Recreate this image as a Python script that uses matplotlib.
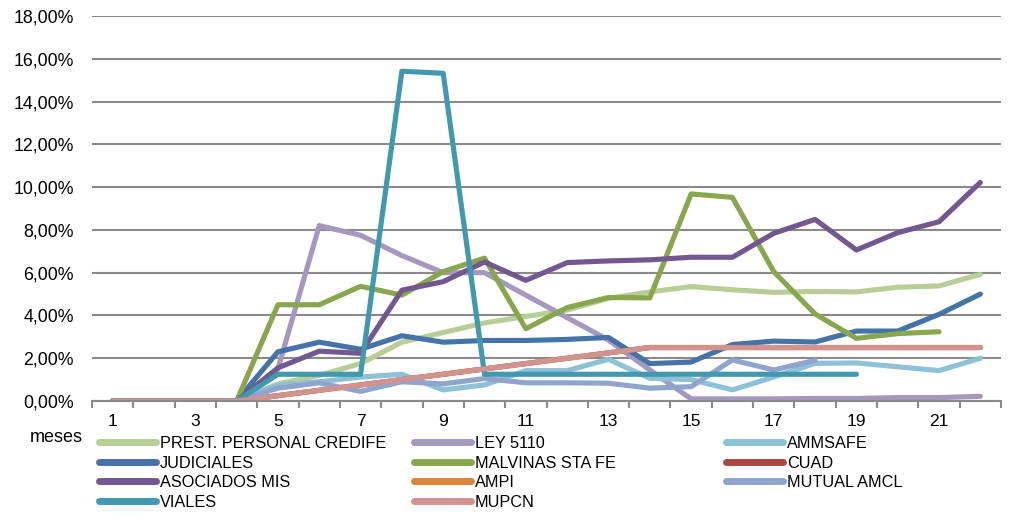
import matplotlib.pyplot as plt
from matplotlib.lines import Line2D

plt.rcParams['font.family'] = ['Liberation Sans', 'DejaVu Sans']

# meses 1..22
meses = list(range(1, 23))

# valores en %
credife = [0, 0, 0, 0, 0.8, 1.2, 1.75, 2.75, 3.2, 3.65, 3.95, 4.25, 4.8, 5.1, 5.35, 5.2, 5.08, 5.12, 5.1, 5.32, 5.38, 5.92]
ley5110 = [0, 0, 0, 0, 1.5, 8.2, 7.75, 6.8, 6.0, 6.0, 4.95, 3.9, 2.85, 1.45, 0.1, 0.1, 0.1, 0.12, 0.12, 0.16, 0.16, 0.22]
ammsafe = [0, 0, 0, 0, 0.75, 0.9, 1.12, 1.25, 0.52, 0.75, 1.42, 1.42, 1.95, 1.06, 1.0, 0.52, 1.12, 1.76, 1.78, 1.6, 1.42, 2.0]
judiciales = [0, 0, 0, 0, 2.3, 2.75, 2.42, 3.05, 2.75, 2.83, 2.83, 2.88, 2.97, 1.75, 1.82, 2.64, 2.8, 2.76, 3.27, 3.27, 4.05, 5.0]
malvinas = [0, 0, 0, 0, 4.5, 4.5, 5.36, 4.95, 6.05, 6.68, 3.38, 4.37, 4.84, 4.82, 9.68, 9.52, 6.05, 4.07, 2.93, 3.15, 3.24, None]
mupcn = [0, 0, 0, 0, 0.25, 0.5, 0.75, 1.0, 1.25, 1.5, 1.75, 2.0, 2.25, 2.5, 2.5, 2.5, 2.5, 2.5, 2.5, 2.5, 2.5, 2.5]
cuad = list(mupcn)
asociados = [0, 0, 0, 0, 1.55, 2.33, 2.23, 5.18, 5.58, 6.5, 5.64, 6.47, 6.55, 6.6, 6.72, 6.72, 7.84, 8.49, 7.06, 7.87, 8.38, 10.22]
ampi = list(mupcn)
mutual = [0, 0, 0, 0, 0.6, 0.85, 0.45, 0.9, 0.8, 1.05, 0.85, 0.85, 0.83, 0.6, 0.67, 1.92, 1.45, 1.9, None, None, None, None]
viales = [0, 0, 0, 0, 1.25, 1.25, 1.25, 15.42, 15.32, 1.25, 1.25, 1.25, 1.25, 1.25, 1.25, 1.25, 1.25, 1.25, 1.25, None, None, None]

series = [
    ('PREST. PERSONAL CREDIFE', credife, '#B9CD96'),
    ('LEY 5110', ley5110, '#A598BE'),
    ('AMMSAFE', ammsafe, '#8CC1D6'),
    ('JUDICIALES', judiciales, '#4572A7'),
    ('MALVINAS STA FE', malvinas, '#89A54E'),
    ('CUAD', cuad, '#AA4643'),
    ('ASOCIADOS MIS', asociados, '#71588F'),
    ('AMPI', ampi, '#DB843D'),
    ('MUTUAL AMCL', mutual, '#8FA5CD'),
    ('VIALES', viales, '#4198AF'),
    ('MUPCN', mupcn, '#D09390'),
]

fig = plt.figure(figsize=(10.21, 5.17), dpi=100)
ax = fig.add_axes([92 / 1021, 1 - 401 / 517, 909 / 1021, 385 / 517])

handles = []
for nombre, vals, col in series:
    xs = [m for m, v in zip(meses, vals) if v is not None]
    ys = [v for v in vals if v is not None]
    ln, = ax.plot(xs, ys, color=col, lw=3.7, solid_capstyle='round',
                  solid_joinstyle='round', label=nombre)
    handles.append(ln)

ax.set_xlim(0.5, 22.5)
ax.set_ylim(0, 18)
ax.set_yticks(range(0, 19, 2))
ax.set_yticklabels([f'{v},00%' for v in range(0, 19, 2)])
ax.grid(axis='y', color='#8a8a8a', lw=1.5)
ax.set_axisbelow(True)
for s in ['top', 'right', 'left']:
    ax.spines[s].set_visible(False)
ax.spines['bottom'].set_color('#8a8a8a')
ax.spines['bottom'].set_linewidth(1.5)

ax.set_xticks(meses[::2])
ax.set_xticks([m - 0.5 for m in meses] + [22.5], minor=True)
ax.tick_params(axis='x', which='major', length=0, pad=9, labelsize=12.5)
ax.tick_params(axis='x', which='minor', length=5, width=1.5, color='#8a8a8a')
ax.tick_params(axis='y', length=0, pad=13, labelsize=12.8)

fig.text(56 / 1021, 1 - 438 / 517, 'meses', ha='center', va='center', fontsize=13)

# leyenda en 3 columnas de ancho fijo
col_x = [99, 414, 726]
for c, x0 in enumerate(col_x):
    hs = [Line2D([], [], color=h.get_color(), lw=5, solid_capstyle='round') for h in handles[c::3]]
    labs = [h.get_label() for h in handles[c::3]]
    fig.legend(hs, labs, loc='upper left', bbox_to_anchor=(x0 / 1021, 1 - 436 / 517),
               frameon=False, fontsize=11.7, handlelength=3.5, handletextpad=0.25,
               labelspacing=0.28, borderaxespad=0, borderpad=0)

fig.savefig('out.png', dpi=100)
